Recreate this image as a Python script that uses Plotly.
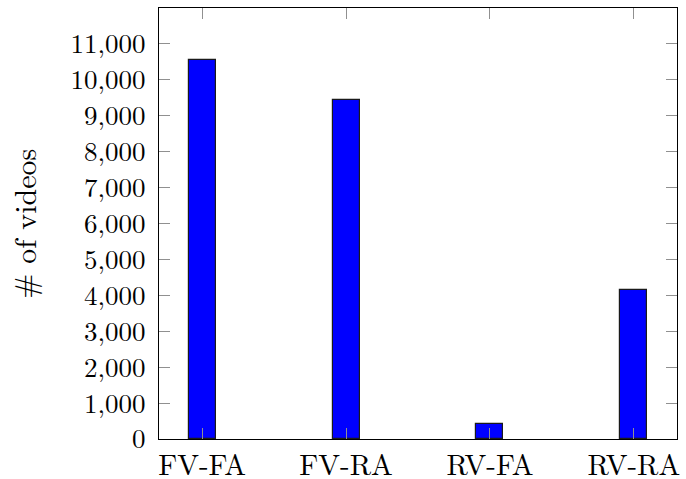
import plotly.graph_objects as go

categories = ["FV-FA", "FV-RA", "RV-FA", "RV-RA"]
videos = [10540, 9430, 430, 4160]
ytick_vals = list(range(0, 12000, 1000))

font_family = "Latin Modern Roman, CMU Serif, Liberation Serif, DejaVu Serif, serif"

fig = go.Figure(
    go.Bar(
        x=list(range(len(categories))),
        y=videos,
        width=0.1875,
        marker=dict(color="#0000ff", line=dict(color="#1a1a1a", width=1.2)),
        hoverinfo="skip",
    )
)

fig.update_layout(
    width=686,
    height=479,
    margin=dict(l=159, r=9, t=8, b=40, autoexpand=False),
    paper_bgcolor="white",
    plot_bgcolor="white",
    showlegend=False,
    font=dict(family=font_family, size=26, color="black"),
    bargap=0,
)

fig.update_xaxes(
    range=[-0.3, 3.3],
    tickmode="array",
    tickvals=list(range(len(categories))),
    ticktext=categories,
    ticks="inside",
    ticklen=11,
    tickcolor="#909090",
    tickwidth=1,
    showline=True,
    linecolor="black",
    linewidth=1.2,
    mirror="ticks",
    showgrid=False,
    zeroline=False,
    tickfont=dict(size=29),
    ticklabelstandoff=0,
    automargin=False,
)

fig.update_yaxes(
    range=[0, 12000],
    tickmode="array",
    tickvals=ytick_vals,
    ticktext=[f"{v:,}" for v in ytick_vals],
    ticks="inside",
    ticklen=11,
    tickcolor="#909090",
    tickwidth=1,
    showline=True,
    linecolor="black",
    linewidth=1.2,
    mirror="ticks",
    showgrid=False,
    zeroline=False,
    tickfont=dict(size=27),
    ticklabelstandoff=7,
    automargin=False,
)

fig.add_annotation(
    text="# of videos",
    xref="paper",
    yref="paper",
    x=-0.262,
    y=0.5,
    xanchor="center",
    yanchor="middle",
    textangle=-90,
    showarrow=False,
    font=dict(size=30, family=font_family, color="black"),
)

fig.write_html(
    "out.html",
    config={"displayModeBar": False},
    post_script="document.body.style.margin='0';document.body.style.padding='0';",
)
